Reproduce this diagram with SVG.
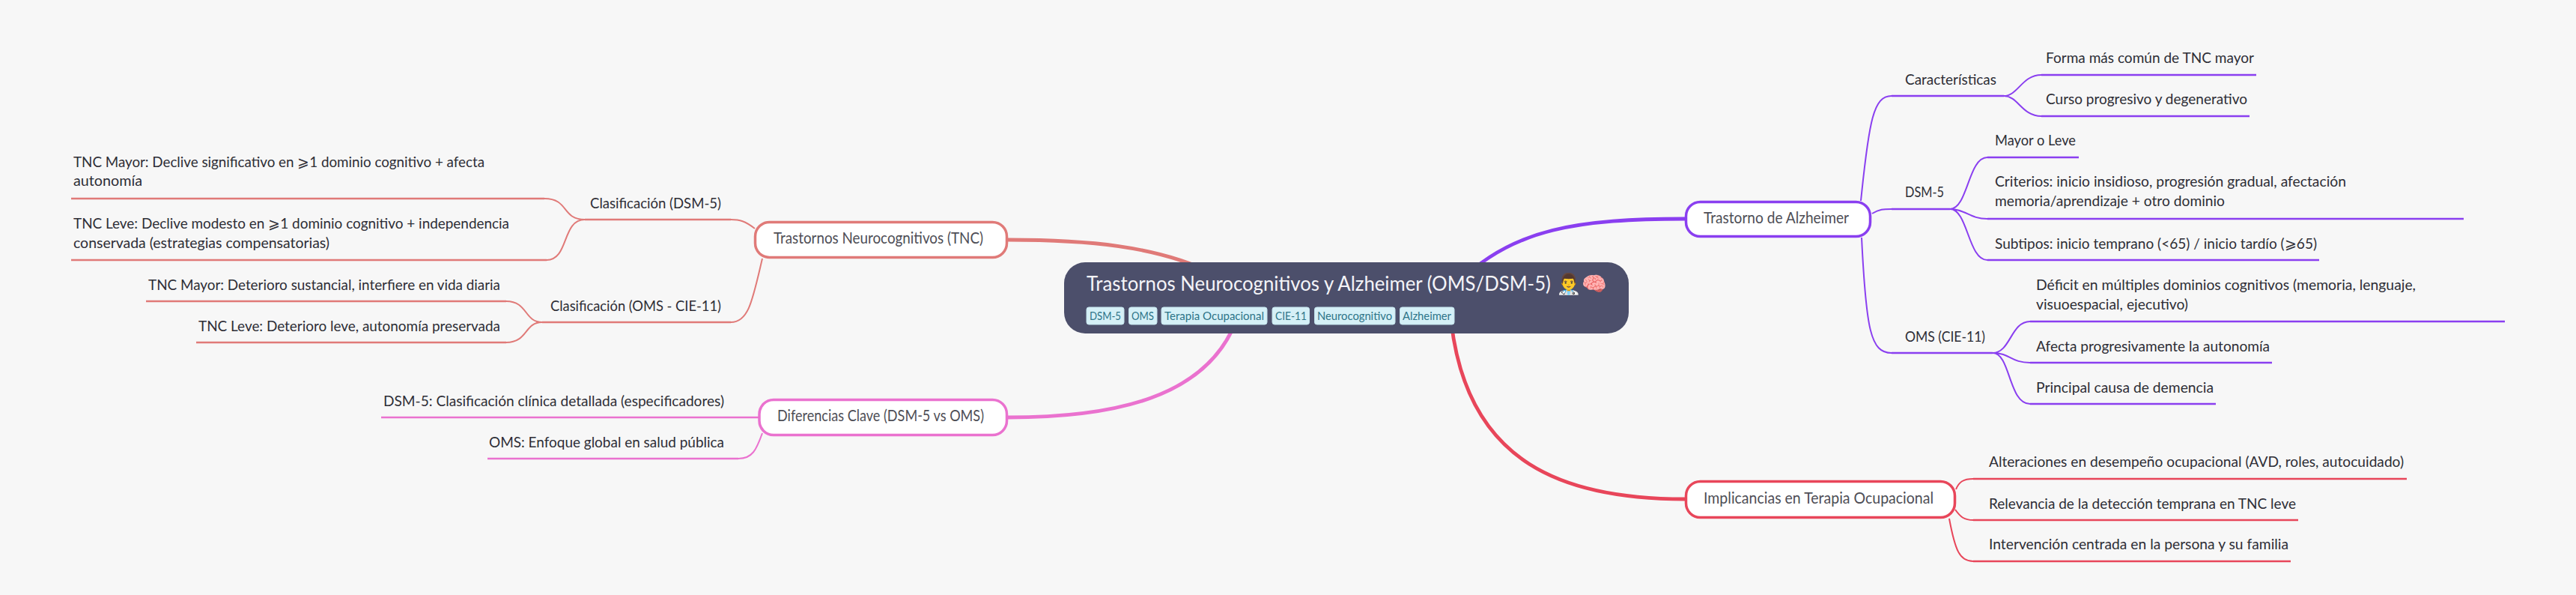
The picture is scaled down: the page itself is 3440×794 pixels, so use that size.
<svg xmlns="http://www.w3.org/2000/svg" width="3440" height="794" viewBox="0 0 3440 794">
<style>
text{font-family:"Lato","Noto Sans",sans-serif;font-size:20px;fill:#2e2e36}
.l{fill:none}
.t{stroke-width:2.5}
.c{stroke-width:2}
.pu{stroke:#8a3ff0}.re{stroke:#e8465a}.pi{stroke:#ea72cf}.sa{stroke:#e07a78}
.th{stroke-width:4.8}
.box{fill:#fff;stroke-width:3.5}
.tag{fill:#d5f0f7;stroke:#c3e3ec;stroke-width:1}
.tt{font-size:15px;fill:#2d7488}
.n{font-size:20.5px;fill:#4e4e56}
.title{font-size:26px;fill:#f4f4f8}
</style>
<rect width="3440" height="794" fill="#f7f7f7"/>
<g id="connectors">
<path class="l sa th" d="M1346 320C1450 320 1545 328 1620 365"/>
<path class="l pu th" d="M2250 292C2110 292 2020 305 1950 375"/>
<path class="l pi th" d="M1346 557C1490 557 1610 530 1650 430"/>
<path class="l re th" d="M2250 666C2090 666 1960 620 1938 430"/>
<path class="l sa c" d="M1008 305C995 295 988 293 976 293"/>
<path class="l sa c" d="M1018 345C1005 400 1000 430 976 430"/>
<path class="l sa c" d="M781 293C750 293 760 265 727 265"/>
<path class="l sa c" d="M781 293C750 293 760 347 730 347"/>
<path class="l sa c" d="M724 430C700 430 705 402 676 402"/>
<path class="l sa c" d="M724 430C700 430 705 457 676 457"/>
<path class="l sa t" d="M95 265H727M95 347H730M781 293H976M724 430H976M195 402H676M262 457H676"/>
<path class="l pi c" d="M1018 578C1010 600 1005 612 986 612"/>
<path class="l pi t" d="M509 557H1013M651 612H986"/>
<path class="l pu c" d="M2485 268C2496 160 2502 128 2526 128M2500 285C2510 279 2515 279 2526 279M2486 317C2492 440 2498 471 2526 471"/>
<path class="l pu c" d="M2676 128C2695 128 2700 100 2726 100M2676 128C2695 128 2700 155 2726 155"/>
<path class="l pu c" d="M2604 279C2628 279 2628 210 2654 210M2604 279C2625 279 2630 292 2654 292M2604 279C2628 279 2628 347 2654 347"/>
<path class="l pu c" d="M2661 471C2685 471 2685 429 2711 429M2661 471C2685 471 2685 484 2711 484M2661 471C2685 471 2682 539 2711 539"/>
<path class="l pu t" d="M2526 128H2676M2726 100H3013M2726 155H3004M2526 279H2604M2654 210H2776M2654 292H3290M2654 347H3097M2526 471H2661M2711 429H3345M2711 484H3034M2711 539H2959"/>
<path class="l re c" d="M2612 653C2616 643 2622 639 2635 639M2611 680C2618 690 2623 694 2635 694M2603 692C2611 735 2617 749 2635 749"/>
<path class="l re t" d="M2635 639H3214M2635 694H3069M2635 749H3059"/>
</g>
<g id="root"><rect x="1421" y="350" width="754" height="95" rx="28" fill="#4c4f6b"/>
<text class="title" x="1451" y="388"><tspan textLength="620" lengthAdjust="spacingAndGlyphs">Trastornos Neurocognitivos y Alzheimer (OMS/DSM-5)</tspan> <tspan font-size="27">👨‍⚕️🧠</tspan></text>
<rect class="tag" x="1451" y="410" width="50" height="23" rx="3"/><text class="tt" x="1455" y="427" textLength="42" lengthAdjust="spacingAndGlyphs">DSM-5</text>
<rect class="tag" x="1507.500" y="410" width="37.500" height="23" rx="3"/><text class="tt" x="1511" y="427" textLength="30" lengthAdjust="spacingAndGlyphs">OMS</text>
<rect class="tag" x="1551" y="410" width="141" height="23" rx="3"/><text class="tt" x="1555" y="427" textLength="133" lengthAdjust="spacingAndGlyphs">Terapia Ocupacional</text>
<rect class="tag" x="1699" y="410" width="49.500" height="23" rx="3"/><text class="tt" x="1703" y="427" textLength="42" lengthAdjust="spacingAndGlyphs">CIE-11</text>
<rect class="tag" x="1755.500" y="410" width="107.500" height="23" rx="3"/><text class="tt" x="1759" y="427" textLength="100" lengthAdjust="spacingAndGlyphs">Neurocognitivo</text>
<rect class="tag" x="1869.500" y="410" width="72.500" height="23" rx="3"/><text class="tt" x="1873" y="427" textLength="65" lengthAdjust="spacingAndGlyphs">Alzheimer</text>
</g>
<g id="n-tnc"><rect class="box sa" x="1008.500" y="296.500" width="336" height="47" rx="19"/><text class="n" x="1033" y="325" textLength="280" lengthAdjust="spacingAndGlyphs">Trastornos Neurocognitivos (TNC)</text></g>
<g id="n-dif"><rect class="box pi" x="1014" y="533.500" width="330.500" height="47" rx="19"/><text class="n" x="1038" y="562" textLength="276" lengthAdjust="spacingAndGlyphs">Diferencias Clave (DSM-5 vs OMS)</text></g>
<g id="n-alz"><rect class="box pu" x="2251.500" y="269.500" width="246" height="46" rx="19"/><text class="n" x="2275" y="297.500" textLength="194" lengthAdjust="spacingAndGlyphs">Trastorno de Alzheimer</text></g>
<g id="n-imp"><rect class="box re" x="2251.500" y="642.500" width="359" height="48" rx="19"/><text class="n" x="2275" y="671.500" textLength="307" lengthAdjust="spacingAndGlyphs">Implicancias en Terapia Ocupacional</text></g>
<g id="n1"><text x="788" y="278" textLength="175" lengthAdjust="spacingAndGlyphs">Clasificación (DSM-5)</text></g>
<g id="n2"><text x="98" y="223" textLength="549" lengthAdjust="spacingAndGlyphs">TNC Mayor: Declive significativo en ⩾1 dominio cognitivo + afecta</text><text x="98" y="248" textLength="92" lengthAdjust="spacingAndGlyphs">autonomía</text></g>
<g id="n3"><text x="98" y="305" textLength="582" lengthAdjust="spacingAndGlyphs">TNC Leve: Declive modesto en ⩾1 dominio cognitivo + independencia</text><text x="98" y="331" textLength="342" lengthAdjust="spacingAndGlyphs">conservada (estrategias compensatorias)</text></g>
<g id="n4"><text x="735" y="415" textLength="228" lengthAdjust="spacingAndGlyphs">Clasificación (OMS - CIE-11)</text></g>
<g id="n5"><text x="198" y="387" textLength="470" lengthAdjust="spacingAndGlyphs">TNC Mayor: Deterioro sustancial, interfiere en vida diaria</text></g>
<g id="n6"><text x="265" y="442" textLength="403" lengthAdjust="spacingAndGlyphs">TNC Leve: Deterioro leve, autonomía preservada</text></g>
<g id="n7"><text x="512" y="542" textLength="455" lengthAdjust="spacingAndGlyphs">DSM-5: Clasificación clínica detallada (especificadores)</text></g>
<g id="n8"><text x="653" y="597" textLength="314" lengthAdjust="spacingAndGlyphs">OMS: Enfoque global en salud pública</text></g>
<g id="n9"><text x="2544" y="113" textLength="122" lengthAdjust="spacingAndGlyphs">Características</text></g>
<g id="n10"><text x="2732" y="84" textLength="278" lengthAdjust="spacingAndGlyphs">Forma más común de TNC mayor</text></g>
<g id="n11"><text x="2732" y="139" textLength="269" lengthAdjust="spacingAndGlyphs">Curso progresivo y degenerativo</text></g>
<g id="n12"><text x="2544" y="263" textLength="52" lengthAdjust="spacingAndGlyphs">DSM-5</text></g>
<g id="n13"><text x="2664" y="194" textLength="108" lengthAdjust="spacingAndGlyphs">Mayor o Leve</text></g>
<g id="n14"><text x="2664" y="249" textLength="469" lengthAdjust="spacingAndGlyphs">Criterios: inicio insidioso, progresión gradual, afectación</text><text x="2664" y="275" textLength="307" lengthAdjust="spacingAndGlyphs">memoria/aprendizaje + otro dominio</text></g>
<g id="n15"><text x="2664" y="332" textLength="430" lengthAdjust="spacingAndGlyphs">Subtipos: inicio temprano (&lt;65) / inicio tardío (⩾65)</text></g>
<g id="n16"><text x="2544" y="456" textLength="107" lengthAdjust="spacingAndGlyphs">OMS (CIE-11)</text></g>
<g id="n17"><text x="2719" y="387" textLength="507" lengthAdjust="spacingAndGlyphs">Déficit en múltiples dominios cognitivos (memoria, lenguaje,</text><text x="2719" y="413" textLength="203" lengthAdjust="spacingAndGlyphs">visuoespacial, ejecutivo)</text></g>
<g id="n18"><text x="2719" y="469" textLength="312" lengthAdjust="spacingAndGlyphs">Afecta progresivamente la autonomía</text></g>
<g id="n19"><text x="2719" y="524" textLength="237" lengthAdjust="spacingAndGlyphs">Principal causa de demencia</text></g>
<g id="n20"><text x="2656" y="623" textLength="554" lengthAdjust="spacingAndGlyphs">Alteraciones en desempeño ocupacional (AVD, roles, autocuidado)</text></g>
<g id="n21"><text x="2656" y="679" textLength="410" lengthAdjust="spacingAndGlyphs">Relevancia de la detección temprana en TNC leve</text></g>
<g id="n22"><text x="2656" y="733" textLength="400" lengthAdjust="spacingAndGlyphs">Intervención centrada en la persona y su familia</text></g>
</svg>
